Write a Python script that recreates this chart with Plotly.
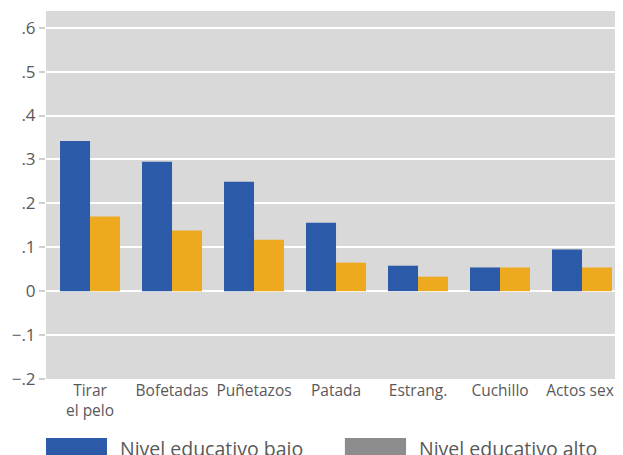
import plotly.graph_objects as go

categories = ["Tirar<br>el pelo", "Bofetadas", "Puñetazos", "Patada", "Estrang.", "Cuchillo", "Actos sex."]
bajo = [0.342, 0.295, 0.249, 0.156, 0.058, 0.054, 0.095]
alto = [0.170, 0.138, 0.117, 0.065, 0.033, 0.054, 0.054]
series_names = ["Nivel educativo bajo", "Nivel educativo alto"]
ytick_vals = [-0.2, -0.1, 0, 0.1, 0.2, 0.3, 0.4, 0.5, 0.6]
ytick_text = ["\u2212.2", "\u2212.1", "0", ".1", ".2", ".3", ".4", ".5", ".6"]

BLUE = "#2b5ba8"
ORANGE = "#eeaa1f"
LEGEND_GRAY = "#8c8c8c"
TEXT = "#595959"
FONT = "Open Sans"

fig = go.Figure()
fig.add_trace(go.Bar(x=categories, y=bajo, name=series_names[0], marker_color=BLUE,
                     marker_line_width=0, showlegend=False))
fig.add_trace(go.Bar(x=categories, y=alto, name=series_names[1], marker_color=ORANGE,
                     marker_line_width=0, showlegend=False))

# custom legend (wide swatches)
legend_items = [(0.0, 0.1057, 0.1248, BLUE, series_names[0]),
                (0.518, 0.624, 0.643, LEGEND_GRAY, series_names[1])]
for x0, x1, xt, col, name in legend_items:
    fig.add_shape(type="rect", xref="paper", yref="paper", x0=x0, x1=x1, y0=-0.25, y1=-0.160,
                  fillcolor=col, line_width=0)
    fig.add_annotation(xref="paper", yref="paper", x=xt, y=-0.19, text=name, showarrow=False,
                       xanchor="left", yanchor="middle",
                       font=dict(family=FONT, size=19.5, color=TEXT))

fig.update_layout(
    width=615, height=447,
    margin=dict(l=38, r=0, t=3, b=76),
    paper_bgcolor="white",
    plot_bgcolor="#d9d9d9",
    barmode="group",
    bargap=0.268,
    bargroupgap=0,
    font=dict(family=FONT, color=TEXT),
    xaxis=dict(range=[-0.537, 6.5], showgrid=False, ticks="", tickfont=dict(size=15.5, color=TEXT),
               showline=False, zeroline=False),
    yaxis=dict(range=[-0.2, 0.638], tickvals=ytick_vals, ticktext=ytick_text,
               showgrid=True, gridcolor="white", gridwidth=1.5,
               zeroline=True, zerolinecolor="white", zerolinewidth=1.5,
               ticks="outside", ticklen=6, tickcolor="#cfcfcf", tickwidth=1.5,
               tickfont=dict(size=17, color=TEXT), showline=False),
)

fig.write_html("out.html")
